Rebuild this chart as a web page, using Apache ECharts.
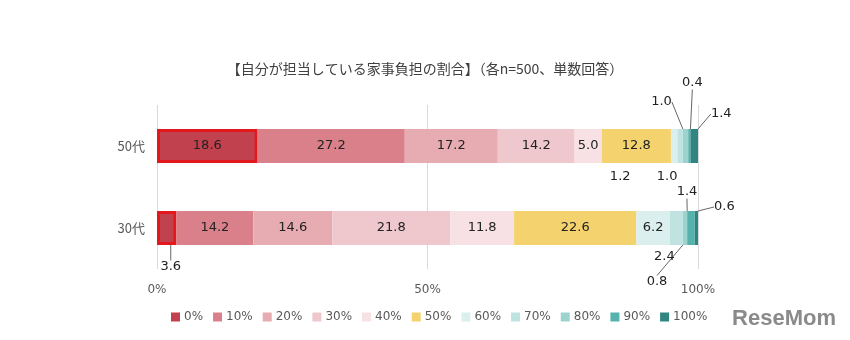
<!DOCTYPE html>
<html><head><meta charset="utf-8">
<script src="https://cdn.jsdelivr.net/npm/echarts@6/dist/echarts.min.js"></script>
<style>html,body{margin:0;padding:0;background:#fff}#c{width:850px;height:340px}</style>
</head><body><div id="c"></div>
<script>
const titleText = '【自分が担当している家事負担の割合】（各n=500、単数回答）';
const categories = ['50代', '30代'];
const seriesNames = ['0%', '10%', '20%', '30%', '40%', '50%', '60%', '70%', '80%', '90%', '100%'];
const values50 = [18.6, 27.2, 17.2, 14.2, 5.0, 12.8, 1.2, 1.0, 1.0, 0.4, 1.4];
const values30 = [3.6, 14.2, 14.6, 21.8, 11.8, 22.6, 6.2, 2.4, 0.8, 1.4, 0.6];
const xTicks = [0, 50, 100];
const colors = ['#c2414f', '#d9808a', '#e7abb2', '#efc8ce', '#f7e1e4', '#f4d36f', '#dcefef', '#bfe3e0', '#9dd3cf', '#55b2ac', '#2f8680'];

// label offsets (row 0 = 50代, row 1 = 30代) for small segments
const moves = {
  '0%':   [null, {dx: 4, dy: 39, line: true}],
  '60%':  [{dx: -54, dy: 31}, null],
  '70%':  [{dx: -13, dy: 31}, {dx: -12, dy: 29}],
  '80%':  [{dx: -24, dy: -44, line: true}, {dx: -28, dy: 54, line: true}],
  '90%':  [{dx: 3, dy: -63, line: true}, {dx: -4, dy: -36, line: true}],
  '100%': [{dx: 27, dy: -32, line: true}, {dx: 28, dy: -21, line: true}]
};

const numFont = 'DejaVu Sans, "Noto Sans CJK JP", sans-serif';

const series = seriesNames.map((name, i) => {
  const mv = moves[name] || [null, null];
  return {
    name: name,
    type: 'bar',
    stack: 'total',
    barWidth: 34,
    itemStyle: i === 0 ? {color: colors[i], borderColor: '#e3181d', borderWidth: 3} : {color: colors[i]},
    label: {
      show: true,
      position: 'inside',
      color: '#222',
      fontSize: 13,
      fontFamily: numFont,
      formatter: p => p.value.toFixed(1)
    },
    labelLine: {show: true, lineStyle: {color: '#666', width: 1}},
    labelLayout: function (params) {
      const m = mv[params.dataIndex];
      if (m) return {dx: m.dx, dy: m.dy};
      return {};
    },
    data: [values50[i], values30[i]].map((v, r) => {
      const m = mv[r];
      return {value: v, labelLine: {show: !!(m && m.line)}};
    })
  };
});

const chart = echarts.init(document.getElementById('c'), null, {renderer: 'canvas'});
chart.setOption({
  animation: false,
  color: colors,
  title: {
    text: titleText,
    left: 'center',
    top: 57,
    textStyle: {fontSize: 14, fontWeight: 'normal', color: '#404040', fontFamily: '"Noto Sans CJK JP", sans-serif'}
  },
  legend: {
    data: seriesNames,
    bottom: 12,
    left: 166,
    itemWidth: 9,
    itemHeight: 9,
    itemGap: 10,
    icon: 'rect',
    itemStyle: {borderWidth: 0},
    textStyle: {fontSize: 12, color: '#595959', fontFamily: numFont, padding: [0, 0, 0, -1]}
  },
  grid: {left: 157, right: 152, top: 105, height: 164, containLabel: false},
  xAxis: {
    type: 'value',
    min: 0, max: 100, interval: 50,
    axisLine: {show: false},
    axisTick: {show: false},
    splitLine: {show: true, lineStyle: {color: '#d9d9d9', width: 1}},
    axisLabel: {
      margin: 15, fontSize: 12, color: '#595959', fontFamily: numFont,
      formatter: v => xTicks.indexOf(v) >= 0 ? v + '%' : ''
    }
  },
  yAxis: {
    type: 'category',
    data: categories,
    inverse: true,
    axisLine: {show: false},
    axisTick: {show: false},
    axisLabel: {margin: 12, fontSize: 13, color: '#595959', fontFamily: '"Noto Sans CJK JP", sans-serif'}
  },
  graphic: [{
    type: 'text',
    right: 14,
    bottom: 10,
    style: {text: 'ReseMom', fontSize: 22, fontWeight: 'bold', fill: '#8a8a8a', fontFamily: 'Liberation Sans, sans-serif'}
  }],
  series: series
});
</script></body></html>
